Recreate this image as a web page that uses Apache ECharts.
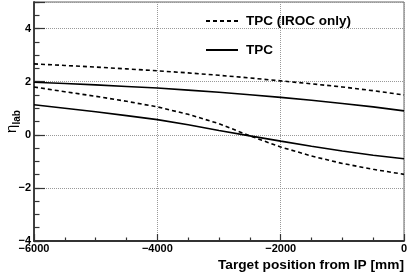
<!DOCTYPE html>
<html>
<head>
<meta charset="utf-8">
<script src="https://cdn.jsdelivr.net/npm/echarts@6/dist/echarts.min.js"></script>
<style>html,body{margin:0;padding:0;background:#fff}#c{width:407px;height:277px}</style>
</head>
<body>
<div id="c"></div>
<script>
// Target position from IP [mm]
var xPositions = [-6000, -5500, -5000, -4500, -4000, -3500, -3000, -2500, -2000, -1500, -1000, -500, 0];
// TPC (IROC only) upper / lower eta edges (dashed)
var irocUpper = [2.67, 2.61, 2.55, 2.48, 2.41, 2.33, 2.24, 2.14, 2.03, 1.92, 1.80, 1.66, 1.50];
var irocLower = [1.80, 1.62, 1.45, 1.26, 1.05, 0.77, 0.42, -0.04, -0.46, -0.80, -1.08, -1.30, -1.49];
// TPC upper / lower eta edges (solid)
var tpcUpper = [1.98, 1.93, 1.88, 1.82, 1.76, 1.68, 1.60, 1.51, 1.41, 1.30, 1.18, 1.05, 0.90];
var tpcLower = [1.13, 1.00, 0.87, 0.72, 0.57, 0.38, 0.16, -0.04, -0.24, -0.43, -0.61, -0.77, -0.90];
var seriesNames = ['TPC (IROC only)', 'TPC'];
var xTicks = [-6000, -4000, -2000, 0];
var yTicks = [-4, -2, 0, 2, 4];

function pairs(ys) { return xPositions.map(function (x, i) { return [x, ys[i]]; }); }
function fmt(v) { return v < 0 ? '\u2212' + Math.abs(v) : String(v); }

var FONT = '"Liberation Sans", Arial, sans-serif';
var AX = '#333';
var GRID = { left: 34, right: 3, top: 2, bottom: 36, outerBoundsMode: 'none', containLabel: false };
var chart = echarts.init(document.getElementById('c'), null, { renderer: 'canvas' });

function lineSeries(name, data, dashed) {
  return {
    name: name, type: 'line', data: pairs(data), symbol: 'none', showSymbol: false,
    animation: false, xAxisIndex: 0, yAxisIndex: 0,
    lineStyle: { color: '#000', width: 1.6, type: dashed ? [4, 3] : 'solid' },
    itemStyle: { color: '#000' }
  };
}

chart.setOption({
  animation: false,
  backgroundColor: '#fff',
  grid: [
    Object.assign({ show: true, borderColor: '#666', borderWidth: 1, backgroundColor: 'transparent' }, GRID),
    Object.assign({ show: false }, GRID)
  ],
  legend: {
    orient: 'vertical', left: 205, top: 14, padding: 0, itemGap: 15, itemWidth: 32, itemHeight: 14,
    data: seriesNames,
    itemStyle: { opacity: 0 },
    textStyle: { fontFamily: FONT, fontWeight: 'bold', fontSize: 13.5, color: '#000', padding: [0, 0, 0, 3] }
  },
  xAxis: [{
    gridIndex: 0, type: 'value', min: -6000, max: 0, interval: 2000,
    name: 'Target position from IP [mm]', nameLocation: 'end', nameGap: 0, nameMoveOverlap: false,
    nameTextStyle: { fontFamily: FONT, fontWeight: 'bold', fontSize: 13.7, color: '#000', align: 'right', verticalAlign: 'top', padding: [17, 0, 0, 0] },
    axisLine: { show: true, onZero: false, lineStyle: { color: AX, width: 1.8 } },
    axisTick: { show: true, inside: true, length: 7, lineStyle: { color: AX, width: 1.2 } },
    minorTick: { show: true, splitNumber: 4, length: 3.5, lineStyle: { color: AX, width: 1.2 } },
    axisLabel: { fontFamily: FONT, fontWeight: 'bold', fontSize: 11, color: '#000', margin: 2, formatter: fmt, showMinLabel: true, showMaxLabel: true },
    splitLine: { show: true, lineStyle: { color: '#999', width: 1, type: [1, 1] } }
  }, {
    gridIndex: 1, type: 'value', min: -6000, max: 0, show: false
  }],
  yAxis: [{
    gridIndex: 0, type: 'value', min: -4, max: 5, interval: 2,
    name: '{a|\u03b7}{b|lab}', nameLocation: 'middle', nameGap: 12, nameRotate: 90, nameMoveOverlap: false,
    nameTextStyle: {
      rich: {
        a: { fontFamily: FONT, fontSize: 15, color: '#000', verticalAlign: 'middle', lineHeight: 20 },
        b: { fontFamily: FONT, fontWeight: 'bold', fontSize: 10, color: '#000', verticalAlign: 'bottom', lineHeight: 20, padding: [8, 0, 0, 0] }
      }
    },
    axisLine: { show: true, onZero: false, lineStyle: { color: AX, width: 1.8 } },
    axisTick: { show: true, inside: true, length: 11, lineStyle: { color: AX, width: 1.2 } },
    axisLabel: { fontFamily: FONT, fontWeight: 'bold', fontSize: 11, color: '#000', margin: 3,
      formatter: function (v) { return yTicks.indexOf(v) >= 0 ? fmt(v) : ''; } },
    splitLine: { show: true, lineStyle: { color: '#999', width: 1, type: [1, 1] } }
  }, {
    gridIndex: 1, type: 'value', min: -4, max: 5, interval: 0.5, position: 'left',
    axisLine: { show: false, onZero: false }, axisLabel: { show: false }, splitLine: { show: false },
    axisTick: { show: true, inside: true, length: 5.5, lineStyle: { color: AX, width: 1.2 } }
  }],
  series: [
    lineSeries(seriesNames[0], irocUpper, true),
    lineSeries(seriesNames[0], irocLower, true),
    lineSeries(seriesNames[1], tpcUpper, false),
    lineSeries(seriesNames[1], tpcLower, false)
  ]
});
</script>
</body>
</html>
